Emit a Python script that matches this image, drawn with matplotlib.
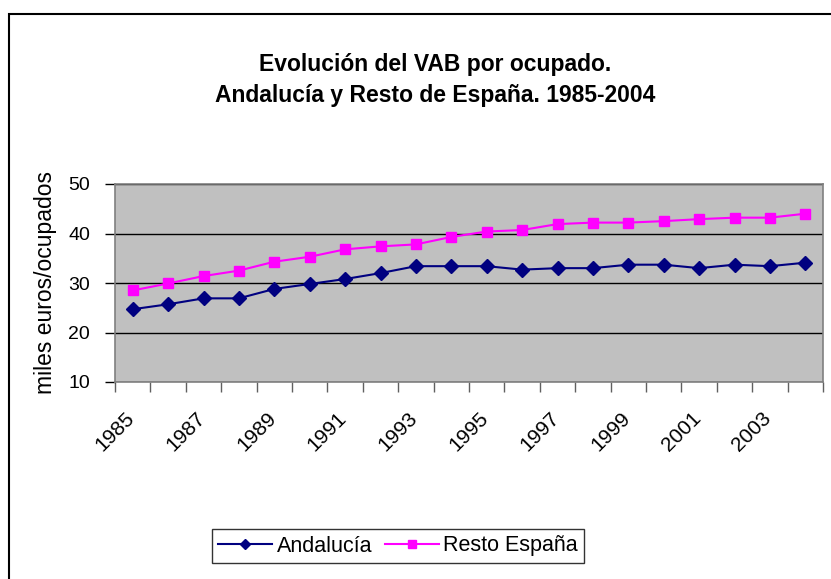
import numpy as np
import matplotlib.pyplot as plt
from matplotlib.patches import Rectangle

plt.rcParams['font.family'] = ['Liberation Sans', 'DejaVu Sans']

# datos
years = list(range(1985, 2005))
andalucia = [24.7, 25.7, 26.9, 26.9, 28.8, 29.8, 30.8, 32.0, 33.4, 33.4,
             33.4, 32.7, 33.0, 33.0, 33.7, 33.7, 33.0, 33.7, 33.4, 34.1]
resto = [28.5, 29.9, 31.4, 32.5, 34.3, 35.3, 36.8, 37.4, 37.8, 39.3,
         40.4, 40.7, 41.9, 42.2, 42.2, 42.5, 42.9, 43.2, 43.2, 44.0]
y_ticks = [10, 20, 30, 40, 50]

W, H = 831, 579
fig = plt.figure(figsize=(W / 100, H / 100), dpi=100)

# marco exterior del grafico
fig.patches.append(Rectangle((9 / W, -0.1), 1.2, (H - 14) / H + 0.1,
                             transform=fig.transFigure, fill=False,
                             edgecolor='black', linewidth=1.5))

ax = fig.add_axes([115 / W, 1 - 382 / H, (823 - 115) / W, (382 - 184) / H])
ax.set_facecolor('#C0C0C0')

x = np.arange(len(years))
ax.plot(x, andalucia, color='#000080', marker='D', markersize=7,
        linewidth=1.5, label='Andalucía', zorder=3)
ax.plot(x, resto, color='#FF00FF', marker='s', markersize=7.5,
        linewidth=1.5, label='Resto España', zorder=3)

ax.set_xlim(-0.5, len(years) - 0.5)
ax.set_ylim(10, 50)
ax.set_yticks(y_ticks)
ax.yaxis.grid(True, color='black', linewidth=1)
ax.set_axisbelow(True)

# ticks en los limites de categoria, etiquetas cada dos anios
# (las etiquetas van un poco a la izquierda del centro, como en Excel)
ax.set_xticks(np.arange(-0.5, len(years)))
ax.set_xticklabels([])
ax.set_xticks(x[::2] - 0.23, minor=True)
ax.set_xticklabels([str(y) for y in years[::2]], minor=True,
                   rotation=45, ha='right', rotation_mode='anchor', fontsize=15)
ax.tick_params(axis='x', which='major', length=7, width=1, color='#606060')
ax.tick_params(axis='x', which='minor', length=0, pad=19)
ax.tick_params(axis='y', length=7, width=1, labelsize=14, pad=11)

for s in ax.spines.values():
    s.set_color('#808080')
    s.set_linewidth(1.2)

ax.set_ylabel('miles euros/ocupados', fontsize=16.5, labelpad=8)

fig.text(435 / W, 1 - 64 / H, 'Evolución del VAB por ocupado.',
         ha='center', va='center', fontsize=16.5, fontweight='bold')
fig.text(435 / W, 1 - 95 / H, 'Andalucía y Resto de España. 1985-2004',
         ha='center', va='center', fontsize=16.5, fontweight='bold')

leg = fig.legend(loc='center', bbox_to_anchor=(398 / W, 1 - 546 / H),
                 ncol=2, fontsize=15.5, frameon=True, fancybox=False,
                 handlelength=2.5, handletextpad=0.2, columnspacing=0.6,
                 borderpad=0.3, markerscale=0.75)
leg.get_frame().set_edgecolor('black')
leg.get_frame().set_linewidth(1)

fig.savefig('out.png', dpi=100)
